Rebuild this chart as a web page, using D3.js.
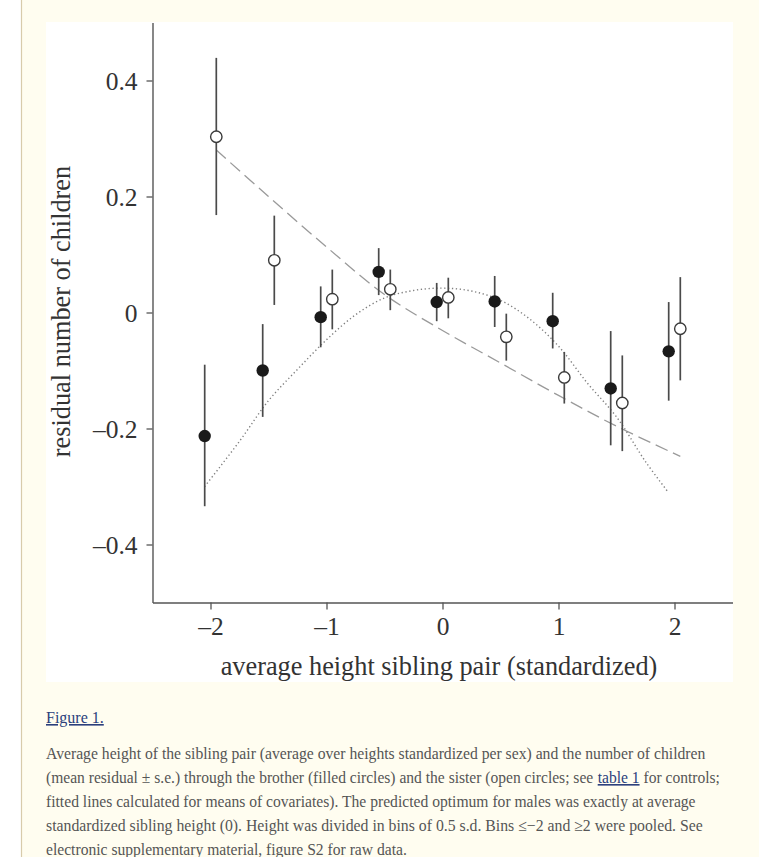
<!DOCTYPE html>
<html><head><meta charset="utf-8">
<script src="https://cdn.jsdelivr.net/npm/d3@7/dist/d3.min.js"></script>
<style>
html,body{margin:0;padding:0;background:#fff;}
svg{display:block;}
</style></head><body>
<svg id="c" width="759" height="857"></svg>
<script>
// ---- data ----
const brotherX     = [-2.05,-1.55,-1.05,-0.55,-0.05,0.45,0.95,1.45,1.95];
const brotherMean  = [-0.213,-0.100,-0.008,0.070,0.018,0.019,-0.015,-0.131,-0.067];
const brotherUpper = [-0.090,-0.020,0.045,0.111,0.051,0.063,0.034,-0.032,0.018];
const brotherLower = [-0.334,-0.180,-0.060,0.030,-0.015,-0.025,-0.062,-0.229,-0.152];

const sisterX     = [-1.95,-1.45,-0.95,-0.45,0.05,0.55,1.05,1.55,2.05];
const sisterMean  = [0.303,0.090,0.023,0.040,0.026,-0.042,-0.112,-0.156,-0.028];
const sisterUpper = [0.439,0.167,0.074,0.074,0.060,-0.002,-0.068,-0.074,0.061];
const sisterLower = [0.168,0.013,-0.029,0.004,-0.010,-0.083,-0.157,-0.239,-0.117];

// fitted line for brothers (dotted)
const brotherFitX = [-2.05,-1.75,-1.5,-1.25,-1.0,-0.75,-0.5,-0.25,0,0.25,0.5,0.75,1.0,1.25,1.5,1.75,1.95];
const brotherFitY = [-0.300,-0.222,-0.152,-0.098,-0.047,-0.004,0.025,0.038,0.042,0.037,0.021,-0.011,-0.058,-0.122,-0.180,-0.257,-0.311];
// fitted line for sisters (dashed)
const sisterFitX = [-1.95,-1.5,-1.0,-0.5,0,0.5,1.0,1.5,2.05];
const sisterFitY = [0.280,0.200,0.113,0.031,-0.031,-0.087,-0.143,-0.196,-0.248];

const xTicks = [-2,-1,0,1,2];
const xTickLabels = ["–2","–1","0","1","2"];
const yTicks = [-0.4,-0.2,0,0.2,0.4];
const yTickLabels = ["–0.4","–0.2","0","0.2","0.4"];

const xTitle = "average height sibling pair (standardized)";
const yTitle = "residual number of children";
const figLabel = "Figure 1.";
const captionLines = [
  [["Average height of the sibling pair (average over heights standardized per sex) and the number of children",false]],
  [["(mean residual ± s.e.) through the brother (filled circles) and the sister (open circles; see ",false],["table 1",true],[" for controls;",false]],
  [["fitted lines calculated for means of covariates). The predicted optimum for males was exactly at average",false]],
  [["standardized sibling height (0). Height was divided in bins of 0.5 s.d. Bins ≤−2 and ≥2 were pooled. See",false]],
  [["electronic supplementary material, figure S2 for raw data.",false]]
];
const captionWidths = [660,674,650,657,361];

// ---- drawing ----
const svg = d3.select("#c");
const serif = "'Liberation Serif','Times New Roman',serif";

svg.append("rect").attr("x",22).attr("y",0).attr("width",737).attr("height",857).attr("fill","#fffdf0");
svg.append("line").attr("x1",21.5).attr("x2",21.5).attr("y1",0).attr("y2",857)
  .attr("stroke","#d8cbab").attr("stroke-width",1.2);
svg.append("rect").attr("x",46).attr("y",22).attr("width",687).attr("height",660).attr("fill","#fff");

const x = d3.scaleLinear().domain([-2.5,2.5]).range([152.5,732.5]);
const y = d3.scaleLinear().domain([-0.5,0.5]).range([602.5,22.5]);

// axes
const ax = svg.append("g").attr("transform",`translate(0,${y(-0.5)})`)
  .call(d3.axisBottom(x).tickValues(xTicks).tickFormat((d,i)=>xTickLabels[i]).tickSize(7).tickSizeOuter(0).tickPadding(7));
const ay = svg.append("g").attr("transform",`translate(${x(-2.5)},0)`)
  .call(d3.axisLeft(y).tickValues(yTicks).tickFormat((d,i)=>yTickLabels[i]).tickSize(6).tickSizeOuter(0).tickPadding(9));
[ax,ay].forEach(g=>{
  g.select(".domain").attr("stroke","#555").attr("stroke-width",1.4);
  g.selectAll(".tick line").attr("stroke","#555").attr("stroke-width",1.3);
  g.selectAll(".tick text").attr("font-family",serif).attr("font-size",25.5).attr("fill","#333");
});
ay.selectAll(".tick text").attr("dy","0.36em");

// titles
svg.append("text").attr("x",439).attr("y",675).attr("text-anchor","middle")
  .attr("font-family",serif).attr("font-size",26.3).attr("fill","#333").text(xTitle);
svg.append("text").attr("transform","translate(70,311.5) rotate(-90)").attr("text-anchor","middle")
  .attr("font-family",serif).attr("font-size",26.3).attr("fill","#333").text(yTitle);

// fitted lines
const bFit = brotherFitX.map((v,i)=>[v,brotherFitY[i]]);
const sFit = sisterFitX.map((v,i)=>[v,sisterFitY[i]]);
const line = d3.line().x(d=>x(d[0])).y(d=>y(d[1])).curve(d3.curveCatmullRom);
svg.append("path").attr("d",line(sFit)).attr("fill","none").attr("stroke","#9a9a9a")
  .attr("stroke-width",1.3).attr("stroke-dasharray","13,6");
svg.append("path").attr("d",line(bFit)).attr("fill","none").attr("stroke","#808080")
  .attr("stroke-width",1.4).attr("stroke-dasharray","1.3,2.6");

// error bars
const bro = brotherX.map((v,i)=>({x:v,m:brotherMean[i],u:brotherUpper[i],l:brotherLower[i]}));
const sis = sisterX.map((v,i)=>({x:v,m:sisterMean[i],u:sisterUpper[i],l:sisterLower[i]}));
[bro,sis].forEach(arr=>{
  svg.append("g").selectAll("line").data(arr).join("line")
    .attr("x1",d=>x(d.x)).attr("x2",d=>x(d.x)).attr("y1",d=>y(d.u)).attr("y2",d=>y(d.l))
    .attr("stroke","#4a4a4a").attr("stroke-width",1.7);
});
// points
svg.append("g").selectAll("circle").data(bro).join("circle")
  .attr("cx",d=>x(d.x)).attr("cy",d=>y(d.m)).attr("r",6.2).attr("fill","#1a1a1a");
svg.append("g").selectAll("circle").data(sis).join("circle")
  .attr("cx",d=>x(d.x)).attr("cy",d=>y(d.m)).attr("r",5.7).attr("fill","#fff")
  .attr("stroke","#3a3a3a").attr("stroke-width",1.4);

// caption
svg.append("text").attr("x",46).attr("y",723).attr("font-family",serif).attr("font-size",16)
  .attr("fill","#2b3f7c").attr("text-decoration","underline").text(figLabel);
captionLines.forEach((segs,i)=>{
  const g = svg.append("g");
  let off = 0;
  segs.forEach(s=>{
    const t = g.append("text").attr("x",off).attr("y",0).attr("font-family",serif)
      .attr("font-size",16).attr("fill",s[1]?"#2b3f7c":"#555").style("white-space","pre").text(s[0]);
    if(s[1]) t.attr("text-decoration","underline");
    off += t.node().getComputedTextLength();
  });
  g.attr("transform",`translate(46,${759+24*i}) scale(${captionWidths[i]/off},1)`);
});
</script>
</body></html>
